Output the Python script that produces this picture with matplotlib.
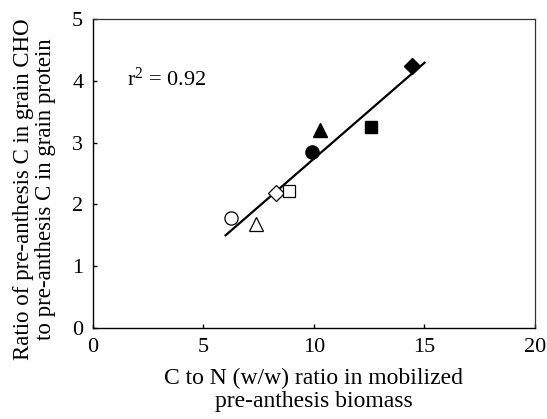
import numpy as np
import matplotlib
matplotlib.use('Agg')
import matplotlib.pyplot as plt

# data
open_circle_x, open_circle_y = [6.25], [1.78]
open_tri_x, open_tri_y = [7.36], [1.69]
open_diam_x, open_diam_y = [8.27], [2.18]
open_sq_x, open_sq_y = [8.88], [2.21]
fill_circle_x, fill_circle_y = [9.92], [2.85]
fill_tri_x, fill_tri_y = [10.25], [3.20]
fill_sq_x, fill_sq_y = [12.58], [3.25]
fill_diam_x, fill_diam_y = [14.45], [4.23]

fit_x = [6.0, 15.0]
fit_y = [1.50, 4.29]

xticks = [0, 5, 10, 15, 20]
yticks = [0, 1, 2, 3, 4, 5]

plt.rcParams['font.family'] = ['Liberation Serif', 'DejaVu Serif']
plt.rcParams['mathtext.fontset'] = 'custom'
plt.rcParams['mathtext.rm'] = 'Liberation Serif'
plt.rcParams['mathtext.it'] = 'Liberation Serif:italic'
plt.rc('xtick', direction='in', labelsize=16)
plt.rc('ytick', direction='in', labelsize=16)
plt.rc('xtick.major', size=3, width=1, pad=7)
plt.rc('ytick.major', size=3, width=1, pad=7)

fig = plt.figure(figsize=(5.47, 4.19), dpi=100)
fig.subplots_adjust(left=0.170, right=0.978, top=0.955, bottom=0.217)
ax = fig.add_subplot(1, 1, 1)

ax.plot(fit_x, fit_y, color='black', lw=1.6, zorder=2)

ms = 9.5
ax.plot(open_circle_x, open_circle_y, 'o', ms=ms, mfc='white', mec='black', mew=0.9, zorder=3)
ax.plot(open_tri_x, open_tri_y, '^', ms=ms, mfc='white', mec='black', mew=0.9, zorder=3)
ax.plot(open_diam_x, open_diam_y, 'D', ms=ms * 0.85, mfc='white', mec='black', mew=0.9, zorder=3)
ax.plot(open_sq_x, open_sq_y, 's', ms=ms * 0.9, mfc='white', mec='black', mew=0.9, zorder=3)
ax.plot(fill_circle_x, fill_circle_y, 'o', ms=ms, color='black', zorder=3)
ax.plot(fill_tri_x, fill_tri_y, '^', ms=ms, color='black', zorder=3)
ax.plot(fill_diam_x, fill_diam_y, 'D', ms=ms * 0.9, color='black', zorder=3)
ax.plot(fill_sq_x, fill_sq_y, 's', ms=ms * 0.9, color='black', zorder=3)

ax.text(1.55, 4.03, r'r$^{\mathrm{2}}$ = 0.92', fontsize=16, va='center', ha='left')

ax.set_xlim(0, 20)
ax.set_ylim(0, 5)
ax.set_xticks(xticks)
ax.set_yticks(yticks)

for s in ['left', 'bottom']:
    ax.spines[s].set_linewidth(1.0)
for s in ['top', 'right']:
    ax.spines[s].set_linewidth(0.9)
    ax.spines[s].set_color('#333333')

ax.set_xlabel('C to N (w/w) ratio in mobilized\npre-anthesis biomass', fontsize=17, labelpad=8, linespacing=1.1)
ax.set_ylabel('Ratio of pre-anthesis C in grain CHO\nto pre-anthesis C in grain protein', fontsize=16.5, linespacing=1.05)
ax.yaxis.set_label_coords(-0.084, 0.45)

plt.savefig('out.png', dpi=100)
